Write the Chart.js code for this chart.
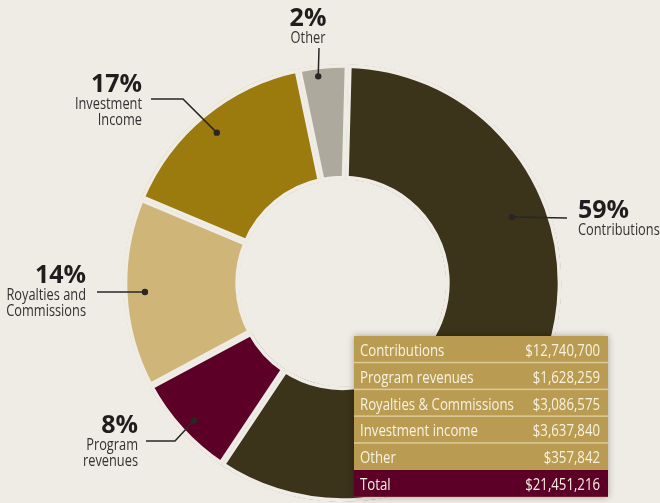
<!DOCTYPE html>
<html>
<head>
<meta charset="utf-8">
<script src="https://cdn.jsdelivr.net/npm/chart.js@4.4.1/dist/chart.umd.min.js"></script>
<style>
  html, body { margin: 0; padding: 0; background: #efece5; }
  #wrap { position: relative; width: 660px; height: 503px; overflow: hidden; }
</style>
</head>
<body>
<div id="wrap">
  <canvas id="chart1" width="660" height="503"></canvas>
</div>
<script>
// revenue sources, clockwise from the top
var categories = ["Contributions", "Program revenues", "Royalties & Commissions", "Investment income", "Other"];
var sliceLabels = [["Contributions"], ["Program", "revenues"], ["Royalties and", "Commissions"], ["Investment", "Income"], ["Other"]];
var amounts = [12740700, 1628259, 3086575, 3637840, 357842];
// slice sizes (%) as they are drawn in the picture
var sliceShares = [59, 7.8, 14.2, 15.4, 3.7];
var colors = ["#3b341a", "#5c0027", "#cfb678", "#9b7a0e", "#adaa9d"];
var bg = "#efece5";

var total = amounts.reduce((a, b) => a + b, 0);
var fmt = v => '$' + v.toLocaleString('en-US');

var FONT = '"Open Sans", sans-serif';
var SQUEEZE = 0.8;   // narrow the text, the original uses a condensed face

function narrowText(c, txt, x, y, align) {
    c.save();
    c.translate(x, y);
    c.scale(SQUEEZE, 1);
    c.textAlign = align;
    c.fillText(txt, 0, 0);
    c.restore();
}

// callouts: dot on the slice (angle cw from top, fraction of outer radius), leader path, text anchor
var callouts = [
    { angle: 68.7, r: 0.83, path: [[567, 218]], tx: 578, ty: 218, align: 'left' },
    { angle: 227.2, r: 0.923, path: [[175, 441], [146, 441]], tx: 138, ty: 433, align: 'right' },
    { angle: 267.4, r: 0.903, path: [[97, 292]], tx: 86, ty: 283, align: 'right' },
    { angle: 320.1, r: 0.895, path: [[183, 99], [151, 99]], tx: 142, ty: 92, align: 'right' },
    { angle: 353.3, r: 0.95, path: [[319, 48]], tx: 308, ty: 26, align: 'center' }
];

var calloutPlugin = {
    id: 'callouts',
    afterDatasetsDraw(chart) {
        const c = chart.ctx;
        const arcs = chart.getDatasetMeta(0).data;
        c.save();
        callouts.forEach((co, i) => {
            const arc = arcs[i];
            const a = (co.angle - 90) * Math.PI / 180;
            const rr = arc.outerRadius * co.r;
            const dx = arc.x + Math.cos(a) * rr, dy = arc.y + Math.sin(a) * rr;
            c.strokeStyle = '#2a2626';
            c.lineWidth = 1.5;
            c.beginPath();
            c.moveTo(dx, dy);
            co.path.forEach(p => c.lineTo(p[0], p[1]));
            c.stroke();
            c.fillStyle = '#2a2626';
            c.beginPath();
            c.arc(dx, dy, 3.2, 0, Math.PI * 2);
            c.fill();

            const pct = Math.round(amounts[i] / total * 100) + '%';
            c.textBaseline = 'alphabetic';
            c.textAlign = co.align;
            c.fillStyle = '#211d1e';
            c.font = 'bold 25px ' + FONT;
            c.fillText(pct, co.tx, co.ty);
            c.fillStyle = '#333132';
            c.font = '16px ' + FONT;
            sliceLabels[i].forEach((ln, k) => narrowText(c, ln, co.tx, co.ty + 16.5 + k * 16.5, co.align));
        });
        c.restore();
    }
};

// amounts table at the lower right
var tablePlugin = {
    id: 'amountTable',
    afterDraw(chart) {
        const c = chart.ctx;
        const x0 = 354, y0 = 336, w = 254, rh = 26.8;
        const rows = categories.map((k, i) => [k, fmt(amounts[i])]);
        rows.push(['Total', fmt(total)]);
        c.save();
        c.shadowColor = 'rgba(0,0,0,0.3)';
        c.shadowBlur = 7;
        c.fillStyle = '#b99c52';
        c.fillRect(x0, y0, w, rh * rows.length);
        c.restore();
        c.save();
        rows.forEach((r, i) => {
            const y = y0 + i * rh;
            if (i === rows.length - 1) {
                c.fillStyle = '#5c0027';
                c.fillRect(x0, y, w, rh);
            } else if (i > 0) {
                c.fillStyle = '#dccb98';
                c.fillRect(x0, y - 1, w, 1.5);
            }
            c.fillStyle = '#f8f2e2';
            c.font = '16.5px ' + FONT;
            c.textBaseline = 'alphabetic';
            narrowText(c, r[0], x0 + 6, y + 20, 'left');
            narrowText(c, r[1], x0 + w - 8, y + 20, 'right');
        });
        c.restore();
    }
};

var ctx1 = document.getElementById('chart1');
var chart1 = new Chart(ctx1, {
    type: 'doughnut',
    data: {
        labels: categories,
        datasets: [{
            data: sliceShares,
            backgroundColor: colors,
            borderColor: bg,
            borderWidth: 3.5,
            borderAlign: 'inner',
            borderJoinStyle: 'miter'
        }]
    },
    options: {
        responsive: false,
        animation: false,
        cutout: '47.2%',
        rotation: 1.5,
        layout: { padding: { left: 123, top: 64, right: 98, bottom: 1 } },
        plugins: {
            legend: { display: false },
            tooltip: { enabled: false }
        }
    },
    plugins: [calloutPlugin, tablePlugin]
});
</script>
</body>
</html>
